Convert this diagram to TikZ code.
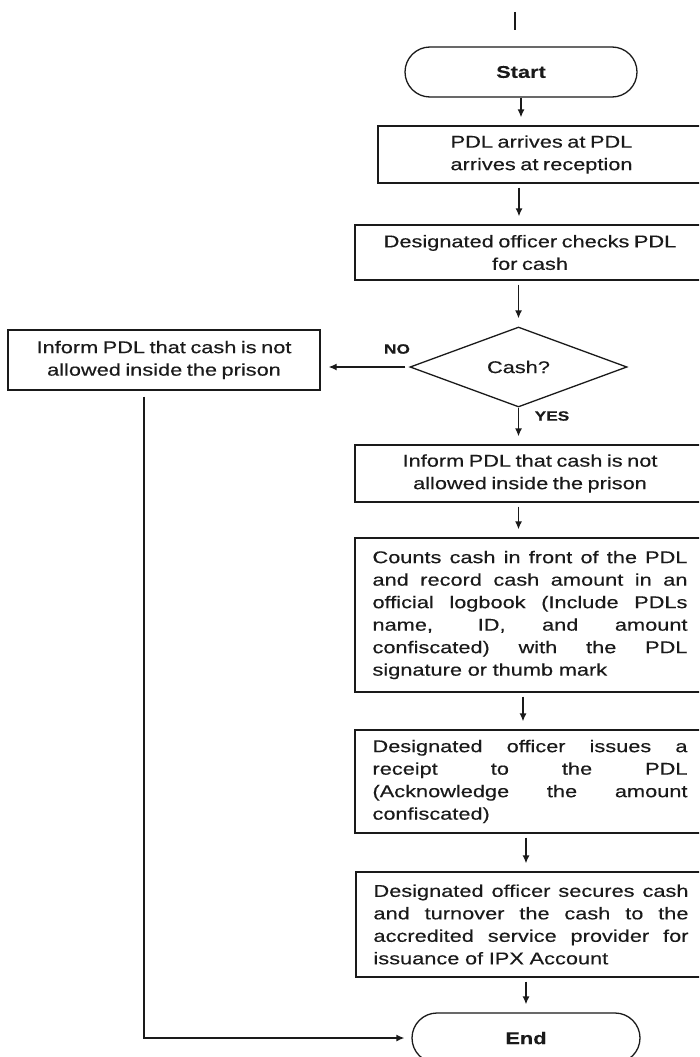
\documentclass[tikz,border=0pt]{standalone}
\usepackage{fontspec}
\setmainfont{Liberation Sans}[FakeStretch=1.28, WordSpace=0.75, FakeBold=0.3]
\usetikzlibrary{shapes.geometric,arrows.meta}
\definecolor{ink}{HTML}{1A1A1A}
\newcommand{\jl}[1]{\makebox[315pt][s]{\spaceskip=0.2em plus 1fill\relax #1}}
\begin{document}
\begin{tikzpicture}[x=1pt,y=-1pt,
  every node/.style={text=ink},
  txt/.style={font=\fontsize{17}{22.5}\selectfont},
  box/.style={draw=ink, line width=1.3pt, rectangle, inner sep=0pt, align=center, txt},
  jbox/.style={box, minimum width=350pt, text width=315pt, align=left},
  term/.style={draw=ink, line width=1.3pt, rectangle, rounded corners=25pt, minimum width=#1, minimum height=50pt, inner sep=0pt, font=\fontsize{17}{20}\selectfont\bfseries},
  dec/.style={draw=ink, line width=1.3pt, diamond, inner sep=0pt, txt},
  arr/.style={draw=ink, line width=1.3pt, -{Latex[length=8pt,width=7pt]}, shorten <=4pt, shorten >=8pt},
  lab/.style={font=\fontsize{13.5}{15}\selectfont\bfseries}
]
\useasboundingbox (0,0) rectangle (699,1057);
\fill[white] (0,0) rectangle (699,1057);
\clip (0,0) rectangle (699,1057);

% nodes
\node[term=232pt] (s) at (521,72) {Start};
\node[box, minimum width=327pt, minimum height=57pt] (b1) at (541.5,154.5) {PDL arrives at PDL\\arrives at reception};
\node[box, minimum width=350pt, minimum height=55pt] (b2) at (530,252.5) {Designated officer checks PDL\\for cash};
\node[dec, minimum width=217pt, minimum height=80pt] (d) at (518.5,367) {Cash?};
\node[box, minimum width=312pt, minimum height=60pt] (lb) at (164,360) {Inform PDL that cash is not\\allowed inside the prison};
\node[box, minimum width=350pt, minimum height=57pt] (b3) at (530,473.5) {Inform PDL that cash is not\\allowed inside the prison};
\node[jbox, minimum height=154pt] (b4) at (530,615) {\jl{Counts cash in front of the PDL}\\\jl{and record cash amount in an}\\\jl{official logbook (Include PDLs}\\\jl{name, ID, and amount}\\\jl{confiscated) with the PDL}\\signature or thumb mark};
\node[jbox, minimum height=103pt] (b5) at (530,781.5) {\jl{Designated officer issues a}\\\jl{receipt to the PDL}\\\jl{(Acknowledge the amount}\\confiscated)};
\node[jbox, minimum height=105pt] (b6) at (531,924.5) {\jl{Designated officer secures cash}\\\jl{and turnover the cash to the}\\\jl{accredited service provider for}\\issuance of IPX Account};
\node[term=228pt] (e) at (526,1038) {End};

\node[lab] (no) at (397,349) {NO};
\node[lab] (yes) at (552,416) {YES};

% helper coordinates
\coordinate (t1) at (515,12);
\coordinate (t2) at (515,30);
\coordinate (col) at (519,0);
\coordinate (c2) at (523,0);
\coordinate (corner) at (144,1038);

% connectors
\draw[draw=ink, line width=1.3pt] (t1) -- (t2);
\draw[arr, shorten <=0pt] (s.south) -- (s.south |- b1.north);
\draw[arr] (b1.south -| col) -- (b2.north -| col);
\draw[arr] (b2.south -| d.north) -- (d.north);
\draw[arr] (d.west) -- (lb.east |- d.west);
\draw[arr, shorten <=0pt] (d.south) -- (d.south |- b3.north);
\draw[arr] (b3.south -| d.south) -- (b4.north -| d.south);
\draw[arr] (b4.south -| c2) -- (b5.north -| c2);
\draw[arr] (b5.south -| e.north) -- (b6.north -| e.north);
\draw[arr] (b6.south -| e.north) -- (e.north);
\draw[arr, shorten <=6pt, shorten >=7pt] (lb.south -| corner) -- (corner) -- (e.west);
\end{tikzpicture}
\end{document}
